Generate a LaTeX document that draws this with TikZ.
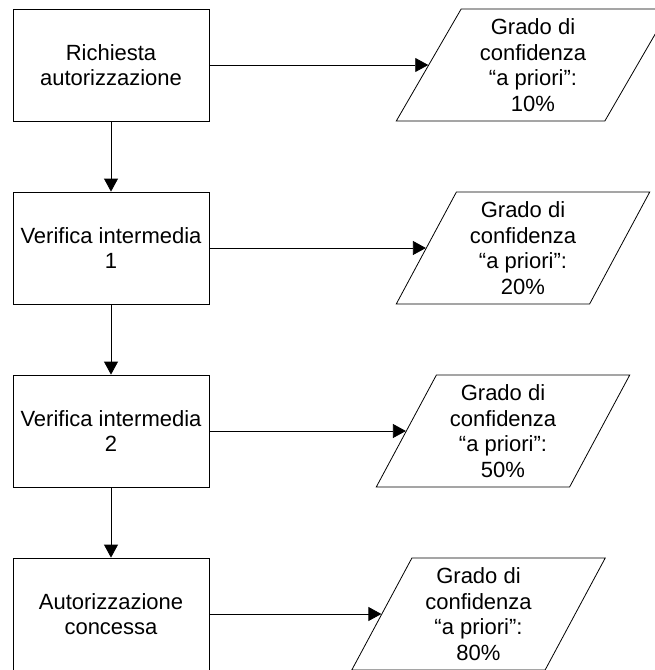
\documentclass[tikz,border=0pt]{standalone}
\usepackage{fontspec}
\setmainfont{Liberation Sans}
\usetikzlibrary{shapes.geometric,arrows.meta}
\begin{document}
\begin{tikzpicture}[x=1pt,y=-1pt,
  every node/.style = {align=center, font=\fontsize{22}{25.5}\selectfont, line width=0.8pt},
  stepbox/.style = {shape=rectangle, draw, minimum width=196pt, minimum height=112pt, inner sep=0pt},
  gradobox/.style = {trapezium, draw, trapezium left angle=62.6, trapezium right angle=117.4,
    trapezium stretches=true, minimum height=112pt, minimum width=#1, inner sep=0pt},
  flow/.style = {line width=0.8pt, -{Triangle[length=13pt,width=14pt]}}]
  \useasboundingbox (0,0) rectangle (655,670);

  \node[stepbox] (richiesta) at (111,65) {Richiesta\\autorizzazione};
  \node[stepbox] (verifica1) at (111,248) {Verifica intermedia\\1};
  \node[stepbox] (verifica2) at (111,431) {Verifica intermedia\\2};
  \node[stepbox] (concessa) at (111,614) {Autorizzazione\\concessa};

  \node[gradobox=274pt] (grado10) at (533,65) {Grado di\\confidenza\\“a priori”:\\10\%};
  \node[gradobox=254pt] (grado20) at (523,248) {Grado di\\confidenza\\“a priori”:\\20\%};
  \node[gradobox=254pt] (grado50) at (503,431) {Grado di\\confidenza\\“a priori”:\\50\%};
  \node[gradobox=254pt] (grado80) at (478.5,614) {Grado di\\confidenza\\“a priori”:\\80\%};

  \draw[flow] (richiesta) -- (verifica1);
  \draw[flow] (verifica1) -- (verifica2);
  \draw[flow] (verifica2) -- (concessa);

  \draw[flow] (richiesta.east) -- (grado10.left side);
  \draw[flow] (verifica1.east) -- (grado20.left side);
  \draw[flow] (verifica2.east) -- (grado50.left side);
  \draw[flow] (concessa.east) -- (grado80.left side);
\end{tikzpicture}
\end{document}
